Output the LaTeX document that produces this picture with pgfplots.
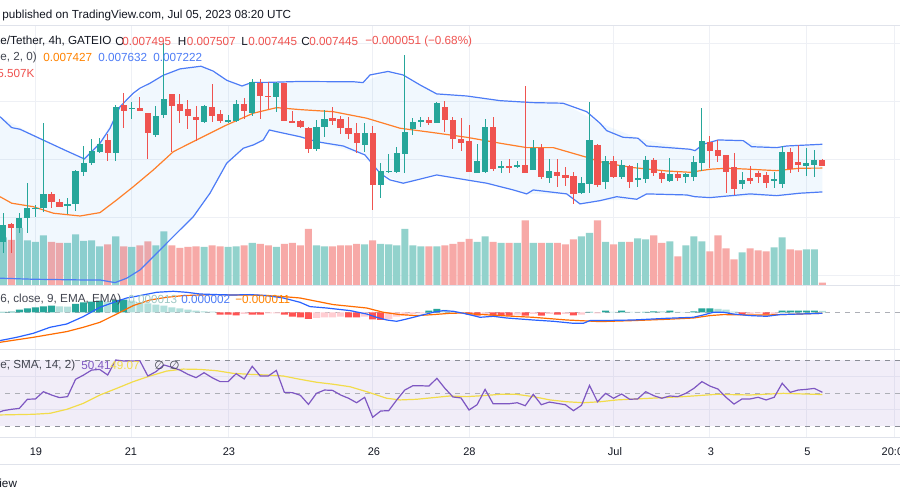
\documentclass[border=0pt]{standalone}
\usepackage{pgfplots}
\pgfplotsset{compat=1.18}
\usepackage{pgfplotstable}
\usepackage{fontspec}
\setmainfont{Liberation Sans}
\newfontfamily\dejavu{DejaVu Sans}

\definecolor{up}{HTML}{26A69A}
\definecolor{dn}{HTML}{EF5350}
\definecolor{vup}{HTML}{92D2CC}
\definecolor{vdn}{HTML}{F7A9A7}
\definecolor{bbblue}{HTML}{4D7CF6}
\definecolor{bborange}{HTML}{FF7F2A}
\definecolor{bbfill}{HTML}{2196F3}
\definecolor{gridc}{HTML}{EEF0F5}
\definecolor{sepc}{HTML}{E0E3EB}
\definecolor{txt}{HTML}{131722}
\definecolor{txtg}{HTML}{434651}
\definecolor{hdark}{HTML}{26A69A}
\definecolor{hlight}{HTML}{B2DFDB}
\definecolor{hpink}{HTML}{FFCDD2}
\definecolor{hred}{HTML}{FF5252}
\definecolor{macdb}{HTML}{2962FF}
\definecolor{macdo}{HTML}{FF6D00}
\definecolor{rsip}{HTML}{7E57C2}
\definecolor{rsiy}{HTML}{F2DC4A}
\definecolor{dashc}{HTML}{8A8D96}
\definecolor{legred}{HTML}{EF5350}

\newcommand\fs{\fontsize{5.85bp}{7bp}\selectfont}
\newcommand\fd{\fontsize{5.5bp}{7bp}\selectfont}

% candles: index, open, high, low, close (x 1e-6 USDT), volume (K)
\pgfplotstableread{
i o h l c v
1 6795 7044 6694 6938 96
2 6943 6958 6694 6915 91
3 6909 7038 6872 6995 115
4 6995 7302 6872 7082 90
5 7076 7110 7003 7087 87
6 7082 7818 7053 7201 100
7 7201 7224 7082 7139 87
8 7139 7161 7090 7096 85
9 7099 7173 7029 7116 85
10 7116 7411 7059 7402 102
11 7396 7617 7359 7468 89
12 7468 7675 7454 7574 90
13 7569 7683 7554 7632 78
14 7669 7717 7491 7554 82
15 7554 7970 7491 7956 98
16 7970 8070 7769 7918 78
17 7933 7999 7850 7947 77
18 7947 8036 7918 7921 80
19 7904 7904 7503 7732 88
20 7712 7961 7698 7876 80
21 7884 8503 7855 8022 108
22 8064 8064 7569 7964 80
23 7979 8064 7818 7921 75
24 7933 8013 7761 7876 77
25 7870 7964 7660 7841 78
26 7827 7970 7818 7964 77
27 7956 8151 7827 7876 80
28 7893 7927 7818 7832 78
29 7830 7884 7812 7841 77
30 7835 8013 7827 7979 78
31 7979 8027 7847 7918 80
32 7904 8191 7876 8171 85
33 8156 8191 7847 8047 83
34 8047 8171 7933 8039 80
35 8036 8171 7913 8156 77
36 8156 8156 7835 7835 83
37 7832 7921 7821 7821 85
38 7835 7841 7769 7778 80
39 7769 7778 7554 7589 113
40 7592 7841 7577 7784 80
41 7778 7927 7698 7847 78
42 7855 7956 7798 7835 78
43 7847 7876 7720 7769 80
44 7775 7864 7678 7717 80
45 7726 7812 7554 7640 83
46 7626 7818 7569 7726 82
47 7726 7789 7067 7282 90
48 7282 7468 7167 7402 83
49 7394 7546 7388 7402 82
50 7396 7606 7388 7554 80
51 7548 8400 7388 7741 113
52 7763 7855 7712 7827 80
53 7827 7870 7778 7838 78
54 7841 7864 7798 7818 78
55 7812 7993 7812 7984 78
56 7950 8007 7741 7841 80
57 7841 7870 7589 7678 83
58 7678 7855 7577 7646 87
59 7663 7795 7391 7391 93
60 7388 7635 7382 7491 87
61 7396 7847 7382 7784 98
62 7784 7864 7405 7419 87
63 7425 7491 7382 7445 85
64 7442 7508 7388 7437 85
65 7434 7488 7425 7454 85
66 7451 8133 7382 7382 130
67 7411 7669 7411 7603 85
68 7603 7635 7331 7348 85
69 7345 7505 7296 7405 85
70 7394 7505 7268 7359 85
71 7371 7440 7276 7339 82
72 7362 7391 7119 7204 92
73 7210 7354 7204 7296 98
74 7290 7999 7210 7669 105
75 7626 7632 7268 7282 130
76 7311 7531 7245 7491 87
77 7488 7531 7339 7354 82
78 7354 7497 7331 7454 87
79 7445 7454 7253 7311 87
80 7325 7468 7268 7339 94
81 7331 7531 7302 7497 92
82 7497 7511 7359 7382 100
83 7382 7405 7302 7331 85
84 7319 7511 7311 7376 88
85 7376 7396 7319 7345 58
86 7348 7388 7302 7376 80
87 7348 7531 7319 7480 98
88 7474 7941 7405 7660 88
89 7655 7703 7425 7577 68
90 7583 7669 7483 7531 100
91 7540 7540 7210 7396 74
92 7437 7554 7196 7245 52
93 7290 7394 7245 7325 66
94 7345 7445 7290 7319 74
95 7385 7402 7296 7354 70
96 7368 7396 7259 7302 68
97 7319 7396 7253 7336 76
98 7287 7617 7253 7566 96
99 7563 7597 7388 7422 72
100 7480 7623 7396 7457 70
101 7448 7597 7359 7468 72
102 7457 7583 7354 7497 72
103 7495 7507 7445 7445 5.507
}\candles

% Bollinger upper band
\pgfplotstableread{
i p
0.59 7869
2.05 7775
3.08 7761
5.94 7669
8.9 7574
11.09 7506
13.04 7641
14.29 7770
15.53 7955
17.19 8071
18.02 8114
19.27 8157
20.89 8224
23.0 8280
25.62 8303
27.11 8262
28.86 8181
30.73 8133
31.97 8164
33.84 8164
37.95 8172
42.06 8170
44.55 8170
45.8 8162
46.67 8228
48.91 8258
50.78 8228
52.9 8142
54.97 8065
58.71 8047
62.86 8007
66.97 7990
70.7 7985
73.65 7912
75.31 7813
76.14 7749
78.17 7692
80.04 7684
81.12 7617
86.52 7589
87.14 7577
88.17 7632
90.04 7669
93.15 7663
94.2 7611
97.31 7603
98.56 7617
103 7632
}\bu

% Bollinger lower band
\pgfplotstableread{
i p
0.59 6480
4.74 6471
10.96 6465
13.04 6465
14.91 6442
16.37 6480
18.02 6551
20.51 6723
22.59 6867
24.66 7009
26.74 7211
28.82 7469
30.89 7598
32.13 7626
33.38 7669
34.13 7755
35.05 7740
37.95 7697
40.03 7654
43.34 7617
46.04 7540
47.91 7383
49.16 7325
50.81 7297
52.48 7325
54.97 7368
58.71 7325
61.2 7297
64.51 7239
66.18 7205
67.0 7239
71.16 7205
72.82 7119
75.31 7147
77.39 7181
79.88 7159
81.12 7205
86.11 7196
87.14 7181
89.01 7173
93.99 7205
97.31 7190
100.2 7211
103 7222
}\bl

% band outline (upper forward, lower backward) for the light fill
\pgfplotstableread{
i p
0.59 7869
5.94 7669
11.09 7506
13.04 7641
15.53 7955
19.27 8157
23.0 8280
25.62 8303
28.86 8181
30.73 8133
33.84 8164
45.8 8162
48.91 8258
52.9 8142
54.97 8065
62.86 8007
70.7 7985
75.31 7813
80.04 7684
87.14 7577
90.04 7669
93.15 7663
97.31 7603
103 7632
103 7222
97.31 7190
89.01 7173
81.12 7205
79.88 7159
75.31 7147
72.82 7119
71.16 7205
66.18 7205
61.2 7297
54.97 7368
50.81 7297
47.91 7383
46.04 7540
40.03 7654
35.05 7740
34.13 7755
33.38 7669
30.89 7598
28.82 7469
26.74 7211
24.66 7009
22.59 6867
20.51 6723
18.02 6551
16.37 6480
14.91 6442
10.96 6465
0.59 6480
}\band

% Bollinger basis
\pgfplotstableread{
i p
0.59 7181
2.05 7125
4.74 7095
7.23 7039
10.55 7015
13.04 7044
15.12 7153
17.19 7267
19.68 7411
22.17 7568
25.5 7684
28.82 7798
32.13 7899
35.05 7947
37.95 7930
42.1 7912
46.25 7856
50.4 7770
54.55 7732
58.71 7692
62.86 7641
66.18 7603
69.5 7603
73.65 7520
75.31 7482
77.39 7454
79.46 7431
83.62 7402
86.52 7391
89.01 7417
91.09 7426
93.99 7417
97.31 7405
100.2 7426
103 7427
}\bm

% MACD (x 1e-6)
\pgfplotstableread{
i v
0.59 -283
2.67 -250
4.74 -210
6.82 -150
8.9 -117
10.96 -43
13.04 50
15.12 110
16.37 143
18.02 167
20.1 200
22.17 210
23.84 200
25.5 183
27.58 177
29.65 173
31.72 177
33.8 167
35.87 143
37.95 100
39.19 57
41.27 43
44.18 17
46.25 -17
47.5 -50
48.75 -77
49.99 -90
51.24 -67
52.9 -33
54.55 0
55.8 17
57.04 10
58.29 -10
59.53 -33
60.36 -50
62.02 -40
63.69 -57
67.0 -77
69.49 -90
71.98 -110
73.23 -110
74.06 -83
75.31 -83
79.46 -77
83.62 -60
86.93 -50
88.17 -27
89.42 0
90.66 0
91.91 -17
93.99 -33
96.06 -40
97.72 -23
100.2 -17
103 -10
}\macdl

\pgfplotstableread{
i v
0.59 -300
4.74 -250
8.9 -193
10.96 -150
13.04 -100
15.12 -17
17.19 67
19.27 123
21.34 150
23.42 167
25.5 173
27.58 177
29.65 173
31.72 173
33.8 167
35.87 157
37.95 143
42.1 77
46.25 43
48.33 0
50.4 -23
52.48 -33
54.55 -23
56.63 -10
58.29 -7
59.53 -17
62.86 -33
67.0 -50
71.16 -77
75.31 -93
79.46 -83
83.62 -70
86.93 -57
89.0 -33
90.66 -23
93.99 -27
96.06 -27
100.2 -17
103 -10
}\macds

% histogram: value (x 1e-6), k = 1 grow above, 2 fall above, 3 rise below, 4 fall below
\pgfplotstableread{
i v k
1 3 1
2 7 1
3 27 1
4 40 1
5 50 1
6 60 1
7 67 1
8 60 2
9 57 2
10 83 1
11 100 1
12 107 1
13 117 1
14 107 2
15 123 1
16 127 1
17 117 2
18 100 2
19 90 2
20 77 2
21 67 2
22 50 2
23 40 2
24 27 2
25 17 2
26 10 2
27 7 2
28 -23 4
29 -23 4
30 -30 4
31 -17 3
32 -23 4
33 -23 4
34 -10 3
35 -10 3
36 -23 4
37 -43 4
38 -50 4
39 -67 4
40 -57 3
41 -50 3
42 -50 3
43 -43 3
44 -50 4
45 -50 4
46 -43 3
47 -70 4
48 -77 4
49 -67 3
50 -43 3
51 -33 3
52 -17 3
53 -10 3
54 17 1
55 33 1
56 23 2
57 10 2
58 2 2
59 -23 4
60 -33 4
61 -17 3
62 -33 4
63 -33 4
64 -33 4
65 -23 3
66 -33 4
67 -17 3
68 -33 4
69 -17 3
70 -23 4
71 -17 3
72 -30 4
73 -23 3
74 3 1
75 -10 3
76 17 1
77 3 2
78 17 1
79 3 2
80 3 2
81 3 1
82 10 1
83 10 2
84 17 1
85 3 2
86 2 2
87 10 1
88 40 1
89 40 1
90 33 2
91 27 2
92 7 2
93 -23 4
94 -17 3
95 -10 3
96 -23 4
97 -17 3
98 17 1
99 17 1
100 17 1
101 17 1
102 17 1
103 13 2
}\hist

\pgfplotstableread{
i r
0 37.5
1 39.3
2 40.1
3 40.7
4 46.2
5 46.4
6 50.8
7 48.8
8 47.2
9 47.8
10 58.3
11 60.9
12 63.9
13 64.3
14 60.9
15 70
16 69.4
17 69.4
18 69.6
19 60.3
20 62.9
21 67
22 65.6
23 63.9
24 61.3
25 59.3
26 62.3
27 59.3
28 56.9
29 56.9
30 61.7
31 58.5
32 66.2
33 60.3
34 60.3
35 63.7
36 50.4
37 50.2
38 48.6
39 43.1
40 49.8
41 51.8
42 51.6
43 48.8
44 46.8
45 44.1
46 47.4
47 35.3
48 39.1
49 39.3
50 45.8
51 51.8
52 54.4
53 54.4
54 54.2
55 58.9
56 52.8
57 47.6
58 47.0
59 39.7
60 42.9
61 52.2
62 43.5
63 43.5
64 43.5
65 44.1
66 42.3
67 49.2
68 42.9
69 44.5
70 43.7
71 42.9
72 39.3
73 42.5
74 54.6
75 44.7
76 49.8
77 46.8
78 49.4
79 46.2
80 46.4
81 50.8
82 48.4
83 46.8
84 48.2
85 47.8
86 49.8
87 52.8
88 56.9
89 54.2
90 52.4
91 47.4
92 43.3
93 46.4
94 46.4
95 47.4
96 45.8
97 47.4
98 55.9
99 50.4
100 51.8
101 52.2
102 52.8
103 50.41
}\rsi

\pgfplotstableread{
i r
0.59 36.7
4.74 37.1
6.82 37.7
8.9 40.1
10.96 43.7
13.04 48.8
15.12 52.8
17.19 56.9
19.27 60.3
21.35 63.3
23.42 64.5
25.5 64.3
27.58 63.5
29.65 61.9
31.72 61.3
33.8 60.9
35.87 60.3
37.95 58.3
40.03 56.5
42.1 55.3
44.18 53.8
46.25 50.8
47.5 48.8
48.75 46.8
50.4 45.8
52.48 46.2
54.55 47.2
56.63 48.2
58.71 47.8
60.78 48.4
62.86 49.2
64.93 49.2
67.0 47.8
69.08 45.8
71.16 44.7
73.23 44.1
75.31 44.7
77.39 45.8
81.53 46.8
85.68 47.8
89.84 49.2
93.99 48.8
98.14 49.8
103 49.07
}\rsima

\pgfplotsset{
  pane/.style={scale only axis, width=450bp, xmin=0.589, xmax=112.67,
    anchor=south west, axis line style={draw=none}, tick style={draw=none},
    major tick length=0pt, xticklabels={}, yticklabels={},
    xtick={5,17,29,47,59,77,89,101,112},
    major grid style={gridc, line width=0.5bp}},
  upc/.style={restrict expr to domain={\thisrow{c}-\thisrow{o}}{0:100000}},
  dnc/.style={restrict expr to domain={\thisrow{o}-\thisrow{c}}{0.001:100000}},
  hk/.style={restrict expr to domain={\thisrow{k}}{#1:#1}},
  nomark/.style={only marks, mark=*, mark size=0pt,
    mark options={draw opacity=0, fill opacity=0}},
}

\begin{document}
\begin{tikzpicture}
\fill[white] (0,0) rectangle (450bp,250bp);

% grid of the price pane
\begin{axis}[pane, at={(0,107bp)}, height=130bp, ymin=6413, ymax=8649,
  ytick={6500,7000,7500,8000,8500}, xmajorgrids, ymajorgrids]
\addplot[draw=none] coordinates {(1,7000)};
\end{axis}

% volume
\begin{axis}[pane, at={(0,107bp)}, height=130bp, ymin=-1, ymax=519, ytick=\empty]
\addplot[ybar, bar width=0.88, bar shift=0pt, fill=vup, draw=none, upc] table[x=i, y=v] {\candles};
\addplot[ybar, bar width=0.88, bar shift=0pt, fill=vdn, draw=none, dnc] table[x=i, y=v] {\candles};
\end{axis}

% Bollinger bands
\begin{axis}[pane, at={(0,107bp)}, height=130bp, ymin=6413, ymax=8649, ytick=\empty]
\addplot[fill=bbfill, fill opacity=0.06, draw=none] table[x=i, y=p] {\band} -- cycle;
\addplot[bbblue, line width=0.6bp] table[x=i, y=p] {\bu};
\addplot[bbblue, line width=0.6bp] table[x=i, y=p] {\bl};
\addplot[bborange, line width=0.6bp] table[x=i, y=p] {\bm};
\end{axis}

% candles
\begin{axis}[pane, at={(0,107bp)}, height=130bp, ymin=6413, ymax=8649, ytick=\empty]
\addplot[nomark, upc, error bars/.cd, y dir=both, y explicit, error mark=none,
  error bar style={line width=0.5bp, up}]
  table[x=i, y expr={(\thisrow{h}+\thisrow{l})/2}, y error expr={(\thisrow{h}-\thisrow{l})/2}] {\candles};
\addplot[nomark, dnc, error bars/.cd, y dir=both, y explicit, error mark=none,
  error bar style={line width=0.5bp, dn}]
  table[x=i, y expr={(\thisrow{h}+\thisrow{l})/2}, y error expr={(\thisrow{h}-\thisrow{l})/2}] {\candles};
\addplot[nomark, upc, error bars/.cd, y dir=both, y explicit, error mark=none,
  error bar style={line width=3.1bp, up}]
  table[x=i, y expr={(\thisrow{o}+\thisrow{c})/2}, y error expr={abs(\thisrow{c}-\thisrow{o})/2}] {\candles};
\addplot[nomark, dnc, error bars/.cd, y dir=both, y explicit, error mark=none,
  error bar style={line width=3.1bp, dn}]
  table[x=i, y expr={(\thisrow{o}+\thisrow{c})/2}, y error expr={abs(\thisrow{c}-\thisrow{o})/2}] {\candles};
\end{axis}

% MACD
\begin{axis}[pane, at={(0,75bp)}, height=32bp, ymin=-377, ymax=263, ytick=\empty, xmajorgrids]
\addplot[dashc!70, dash pattern=on 2.5bp off 2.5bp, line width=0.5bp] coordinates {(0,0) (113,0)};
\addplot[ybar, bar width=0.88, bar shift=0pt, fill=hdark, draw=none, hk=1] table[x=i, y=v] {\hist};
\addplot[ybar, bar width=0.88, bar shift=0pt, fill=hlight, draw=none, hk=2] table[x=i, y=v] {\hist};
\addplot[ybar, bar width=0.88, bar shift=0pt, fill=hpink, draw=none, hk=3] table[x=i, y=v] {\hist};
\addplot[ybar, bar width=0.88, bar shift=0pt, fill=hred, draw=none, hk=4] table[x=i, y=v] {\hist};
\addplot[macdo, line width=0.6bp] table[x=i, y=v] {\macds};
\addplot[macdb, line width=0.6bp] table[x=i, y=v] {\macdl};
\end{axis}

% RSI
\begin{axis}[pane, at={(0,31bp)}, height=44bp, ymin=22.73, ymax=76.06,
  ytick={40,60}, xmajorgrids, ymajorgrids]
\addplot[draw=none, fill=rsip, fill opacity=0.1] coordinates {(0,30) (113,30) (113,70) (0,70)} -- cycle;
\addplot[dashc, dash pattern=on 2.5bp off 2.5bp, line width=0.5bp] coordinates {(0,70) (113,70)};
\addplot[dashc!70, dash pattern=on 2.5bp off 2.5bp, line width=0.5bp] coordinates {(0,50) (113,50)};
\addplot[dashc, dash pattern=on 2.5bp off 2.5bp, line width=0.5bp] coordinates {(0,30) (113,30)};
\addplot[rsiy, line width=0.6bp] table[x=i, y=r] {\rsima};
\addplot[rsip, line width=0.6bp] table[x=i, y=r] {\rsi};
\end{axis}

\begin{scope}[shift={(0,250bp)}, x=0.5bp, y=-0.5bp, every node/.style={inner sep=0pt, font=\fs}]
\draw[sepc, line width=0.5bp] (0,26) -- (900,26);
\draw[sepc, line width=0.5bp] (0,286) -- (900,286);
\draw[sepc, line width=0.5bp] (0,350) -- (900,350);
\draw[sepc, line width=0.5bp] (0,438) -- (900,438);
\draw[sepc, line width=0.5bp] (0,465) -- (900,465);

\node[anchor=west, txt] at (2,15) {published on TradingView.com, Jul 05, 2023 08:20 UTC};

\node[anchor=west, txt] at (0,41) {e/Tether, 4h, GATEIO};
\node[anchor=west, txt] at (115,41) {O};
\node[anchor=west, legred] at (122,41) {0.007495};
\node[anchor=west, txt] at (177.5,41) {H};
\node[anchor=west, legred] at (186.5,41) {0.007507};
\node[anchor=west, txt] at (241,41) {L};
\node[anchor=west, legred] at (248,41) {0.007445};
\node[anchor=west, txt] at (301,41) {C};
\node[anchor=west, legred] at (309,41) {0.007445};
\node[anchor=west, legred] at (365,41) {−0.000051 (−0.68\%)};

\node[anchor=west, txtg] at (0,57) {e, 2, 0)};
\node[anchor=west, macdo!85!yellow] at (43,57) {0.007427};
\node[anchor=west, bbblue] at (98,57) {0.007632};
\node[anchor=west, bbblue] at (153,57) {0.007222};

\node[anchor=west, legred] at (-3,73) {5.507K};

\node[anchor=west, txtg] at (0,299) {6, close, 9, EMA, EMA)};
\node[anchor=west, hlight!90!black] at (128,299) {0.000013};
\node[anchor=west, bbblue] at (181,299) {0.000002};
\node[anchor=west, macdo!85!yellow] at (235,299) {−0.000011};

\node[anchor=west, txtg] at (0,365) {e, SMA, 14, 2)};
\node[anchor=west, rsip] at (81,365) {50.41};
\node[anchor=west, rsiy] at (110,365) {49.07};
\node[anchor=west, txtg, font=\fs\dejavu] at (154,365) {∅};
\node[anchor=west, txtg, font=\fs\dejavu] at (169,365) {∅};

\foreach \xx/\lab in {36/19, 131/21, 229/23, 374/26, 469.5/28, 615/Jul, 711/3, 807.5/5, 895.5/20:00}
  \node[txt, font=\fd] at (\xx,452) {\lab};

\node[anchor=west, txt] at (-1,483) {iew};
\end{scope}
\pgfresetboundingbox
\path[use as bounding box] (0,0) rectangle (450bp,250bp);
\end{tikzpicture}
\end{document}
